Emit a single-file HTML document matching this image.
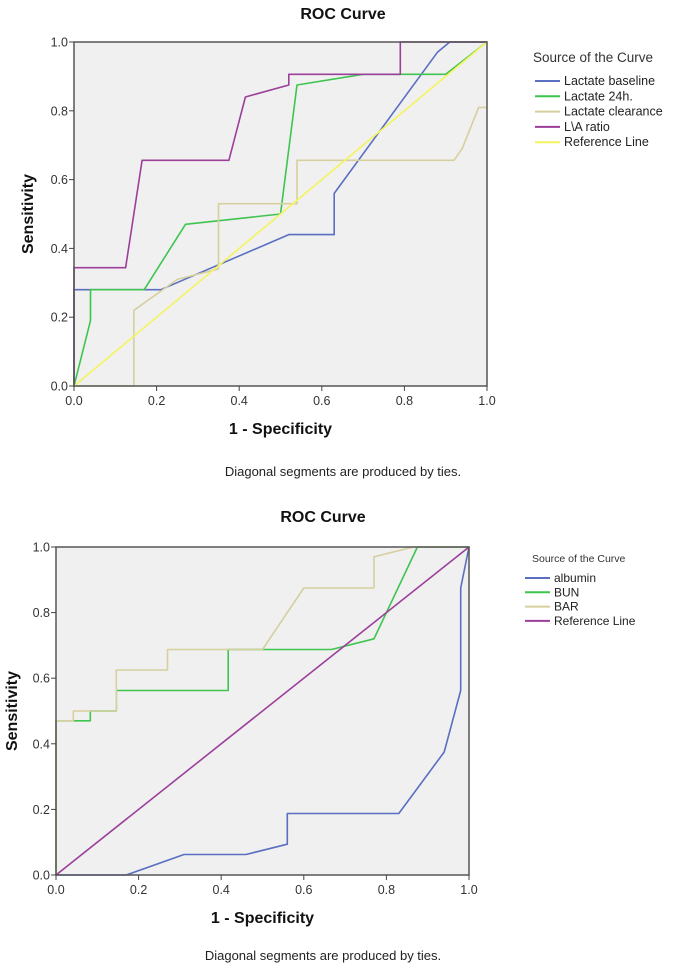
<!DOCTYPE html>
<html><head><meta charset="utf-8">
<style>
html,body{margin:0;padding:0;background:#fff;width:685px;height:967px;overflow:hidden}
svg{display:block;font-family:"Liberation Sans",Arial,sans-serif}
</style></head>
<body>
<svg id="svg" width="685" height="967" viewBox="0 0 685 967"></svg>
<script>
const ticks=[0,0.2,0.4,0.6,0.8,1.0];
const tickLabels=["0.0","0.2","0.4","0.6","0.8","1.0"];
// Chart 1 data
const c1Names=["Lactate baseline","Lactate 24h.","Lactate clearance","L\\A ratio","Reference Line"];
const c1BaseX=[0,0,0.21,0.52,0.63,0.63,0.88,0.91,1];
const c1BaseY=[0,0.28,0.28,0.44,0.44,0.56,0.97,1,1];
const c1L24X=[0,0.04,0.04,0.17,0.27,0.5,0.54,0.7,0.9,1];
const c1L24Y=[0,0.19,0.28,0.28,0.47,0.5,0.875,0.906,0.906,1];
const c1ClrX=[0,0.145,0.145,0.25,0.35,0.35,0.54,0.54,0.92,0.94,0.98,1];
const c1ClrY=[0,0,0.22,0.31,0.34,0.53,0.53,0.656,0.656,0.69,0.81,0.81];
const c1LAX=[0,0,0.125,0.165,0.375,0.415,0.52,0.52,0.79,0.79,1];
const c1LAY=[0,0.344,0.344,0.656,0.656,0.84,0.875,0.906,0.906,1,1];
const c1RefX=[0,1];
const c1RefY=[0,1];
// Chart 2 data
const c2Names=["albumin","BUN","BAR","Reference Line"];
const c2AlbX=[0,0.17,0.31,0.46,0.56,0.56,0.83,0.94,0.98,0.98,1];
const c2AlbY=[0,0,0.0625,0.0625,0.094,0.1875,0.1875,0.375,0.5625,0.875,1];
const c2BunX=[0,0,0.083,0.083,0.146,0.146,0.417,0.417,0.667,0.77,0.875,1];
const c2BunY=[0,0.47,0.47,0.5,0.5,0.5625,0.5625,0.6875,0.6875,0.72,1,1];
const c2BarX=[0,0,0.042,0.042,0.146,0.146,0.27,0.27,0.5,0.6,0.77,0.77,0.865,1];
const c2BarY=[0,0.47,0.47,0.5,0.5,0.625,0.625,0.6875,0.6875,0.875,0.875,0.97,1,1];
const c2RefX=[0,1];
const c2RefY=[0,1];

const NS="http://www.w3.org/2000/svg";
const svg=document.getElementById('svg');
function mk(tag,attrs,parent,text){const e=document.createElementNS(NS,tag);for(const k in attrs)e.setAttribute(k,attrs[k]);if(text!==undefined)e.textContent=text;(parent||svg).appendChild(e);return e;}

function chart(cfg){
  const g=mk('g',{},svg);
  
  
  const sx=v=>cfg.x0+v*(cfg.x1-cfg.x0);
  const sy=v=>cfg.y0-v*(cfg.y0-cfg.y1);
  const t=mk('text',{x:cfg.titleX,y:cfg.titleY,'text-anchor':'middle','font-size':16,'font-weight':'bold',fill:'#111'},g,'ROC Curve');
  
  
  const bg=mk('rect',{x:cfg.x0,y:cfg.y1,width:cfg.x1-cfg.x0,height:cfg.y0-cfg.y1,fill:'#f0f0f0',stroke:'none'},g);
  
  
  // series
  cfg.series.forEach(s=>{
    let d='';
    s.xs.forEach((xv,i)=>{d+=(i?'L':'M')+sx(xv).toFixed(1)+','+sy(s.ys[i]).toFixed(1);});
    const p=mk('path',{d:d,fill:'none',stroke:s.color,'stroke-width':1.6,'stroke-linejoin':'round'},g);
    
    
  });
  const fr=mk('rect',{x:cfg.x0,y:cfg.y1,width:cfg.x1-cfg.x0,height:cfg.y0-cfg.y1,fill:'none',stroke:'#555','stroke-width':1.5},g);
  
  
  ticks.forEach((v,i)=>{
    mk('line',{x1:sx(v),x2:sx(v),y1:cfg.y0,y2:cfg.y0+5,stroke:'#444'},g);
    const xl=mk('text',{x:sx(v),y:cfg.y0+19,'text-anchor':'middle','font-size':12.5,fill:'#333'},g,tickLabels[i]);
    
    
    mk('line',{x1:cfg.x0-5,x2:cfg.x0,y1:sy(v),y2:sy(v),stroke:'#444'},g);
    const yl=mk('text',{x:cfg.x0-6,y:sy(v)+4.5,'text-anchor':'end','font-size':12.5,fill:'#333'},g,tickLabels[i]);
    
    
  });
  const xt=mk('text',{x:(cfg.x0+cfg.x1)/2,y:cfg.y0+48,'text-anchor':'middle','font-size':16,'font-weight':'bold',fill:'#111'},g,'1 - Specificity');
  
  
  const yx=cfg.yTitleX, yy=(cfg.y0+cfg.y1)/2;
  const yt=mk('text',{x:yx,y:yy,'text-anchor':'middle','font-size':16,'font-weight':'bold',fill:'#111',transform:'rotate(-90 '+yx+' '+yy+')'},g,'Sensitivity');
  
  
  const fn=mk('text',{x:cfg.titleX,y:cfg.noteY,'text-anchor':'middle','font-size':13,fill:'#222'},g,'Diagonal segments are produced by ties.');
  
  
  // legend
  const lg=mk('g',{},g);
  
  
  const lt=mk('text',{x:cfg.legX,y:cfg.legY,'font-size':cfg.legTitleSize,fill:'#333'},lg,'Source of the Curve');
  
  
  cfg.series.forEach((s,i)=>{
    const y=cfg.legY+cfg.legFirst+i*cfg.legStep;
    const e=mk('g',{},lg);
    
    
    mk('line',{x1:cfg.legLineX,x2:cfg.legLineX+25,y1:y-4,y2:y-4,stroke:s.color,'stroke-width':2},e);
    mk('text',{x:cfg.legLineX+29,y:y,'font-size':cfg.legSize,fill:'#222'},e,s.label);
  });
}

chart({name:'roc-chart-lactate',x0:74,x1:487,y0:386,y1:42,titleX:343,titleY:19,yTitleX:33,noteY:476,
  legX:533,legY:62,legTitleSize:13.5,legFirst:23,legStep:15.3,legLineX:535,legSize:12.5,
  series:[
    {key:'lactate-baseline',label:c1Names[0],xs:c1BaseX,ys:c1BaseY,color:'#5a6fc2'},
    {key:'lactate-24h',label:c1Names[1],xs:c1L24X,ys:c1L24Y,color:'#3fc44f'},
    {key:'lactate-clearance',label:c1Names[2],xs:c1ClrX,ys:c1ClrY,color:'#d6cf9e'},
    {key:'la-ratio',label:c1Names[3],xs:c1LAX,ys:c1LAY,color:'#9c3f9a'},
    {key:'reference-line',label:c1Names[4],xs:c1RefX,ys:c1RefY,color:'#f4f45c'}
  ]});
chart({name:'roc-chart-albumin',x0:56,x1:469,y0:875,y1:547,titleX:323,titleY:522,yTitleX:17,noteY:960,
  legX:532,legY:562,legTitleSize:10.5,legFirst:20,legStep:14.3,legLineX:525,legSize:12,
  series:[
    {key:'albumin',label:c2Names[0],xs:c2AlbX,ys:c2AlbY,color:'#5a6fc2'},
    {key:'bun',label:c2Names[1],xs:c2BunX,ys:c2BunY,color:'#3fc44f'},
    {key:'bar',label:c2Names[2],xs:c2BarX,ys:c2BarY,color:'#d6cf9e'},
    {key:'reference-line',label:c2Names[3],xs:c2RefX,ys:c2RefY,color:'#9c3f9a'}
  ]});
</script>
</body></html>
